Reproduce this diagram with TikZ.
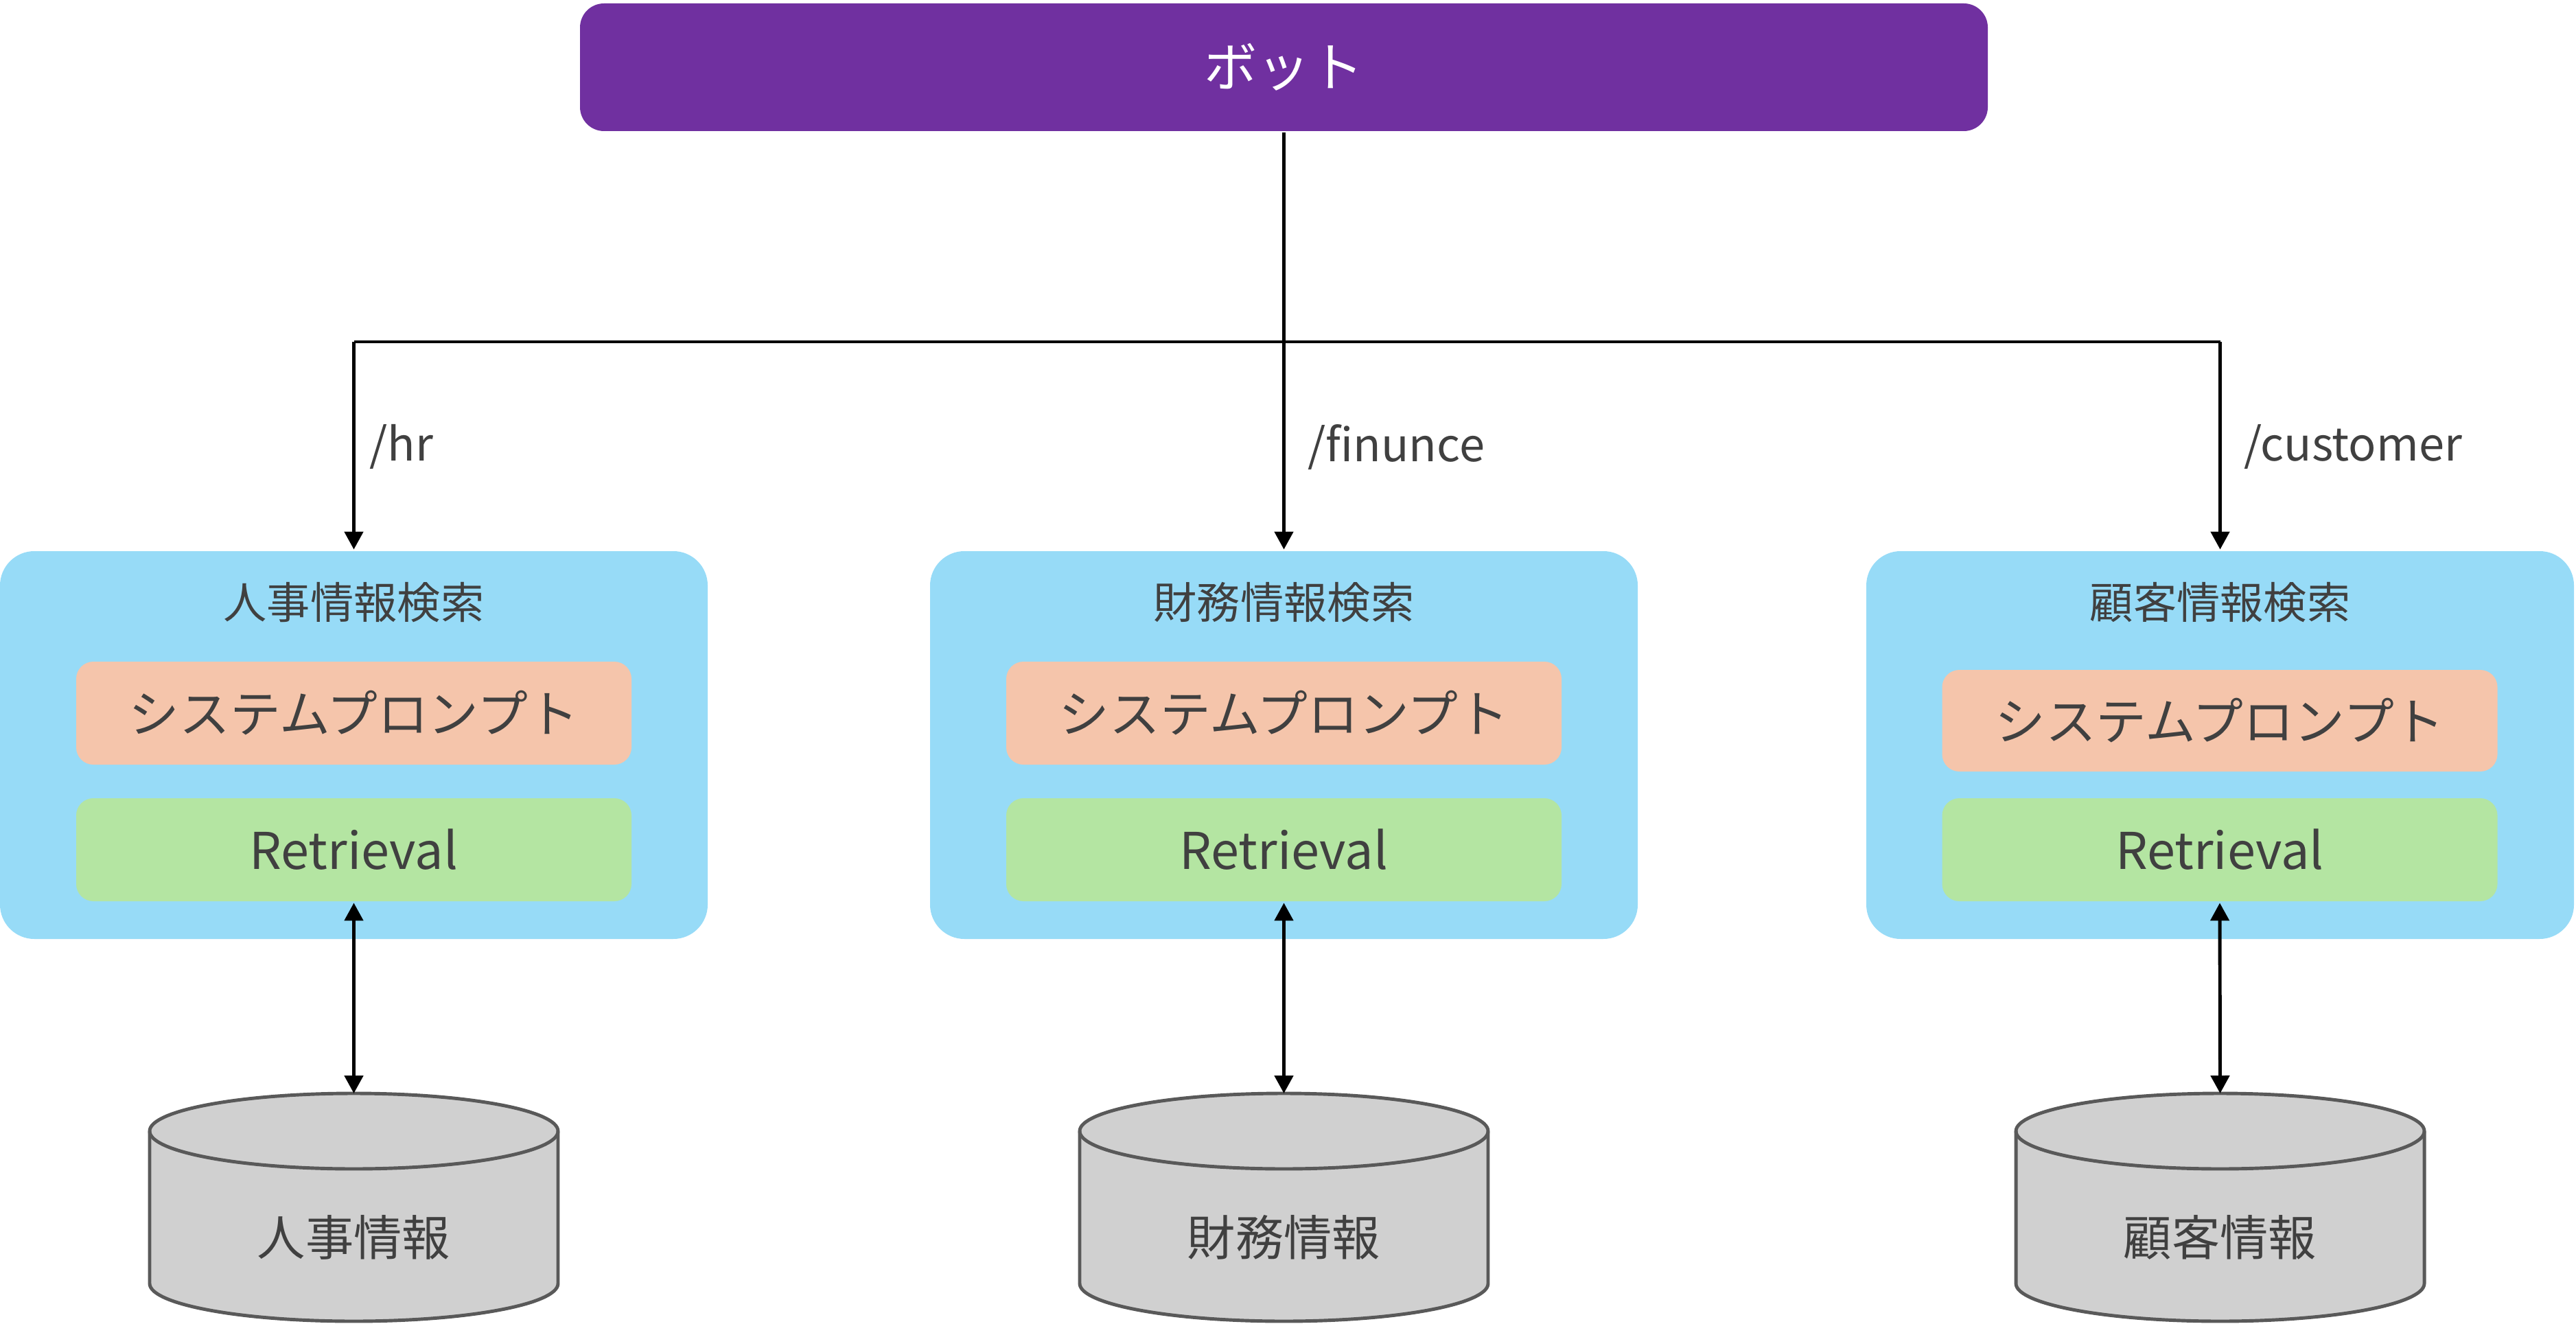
\documentclass[tikz,border=0pt]{standalone}
\usepackage{fontspec}
\setmainfont{Noto Sans CJK JP}
\usetikzlibrary{arrows.meta}
\definecolor{botpurple}{HTML}{7030A0}
\definecolor{grpblue}{HTML}{97DBF7}
\definecolor{sporange}{HTML}{F5C5AB}
\definecolor{rtgreen}{HTML}{B4E5A2}
\definecolor{dbgray}{HTML}{D0D0D0}
\definecolor{dbline}{HTML}{595959}
\definecolor{txtgray}{HTML}{404040}
\begin{document}
\begin{tikzpicture}[>={Triangle[length=2.6mm,width=2.7mm]},line width=1.4pt,
  bot/.style={fill=botpurple,rounded corners=0.35cm,minimum width=20.51cm,minimum height=1.86cm,text=white,font=\fontsize{22}{26}\selectfont},
  grp/.style={fill=grpblue,rounded corners=0.5cm,minimum width=10.31cm,minimum height=5.65cm},
  ttl/.style={text=txtgray,font=\fontsize{18}{22}\selectfont},
  spbox/.style={fill=sporange,rounded corners=0.25cm,minimum width=8.09cm,minimum height=1.5cm,text=txtgray,font=\fontsize{21}{25}\selectfont},
  rtbox/.style={fill=rtgreen,rounded corners=0.25cm,minimum width=8.09cm,minimum height=1.5cm,text=txtgray,font=\fontsize{21}{25}\selectfont},
  lbl/.style={anchor=west,inner sep=0pt,text=txtgray,font=\fontsize{19}{23}\selectfont},
  db/.style={fill=dbgray,draw=dbline,line width=1.4pt},
  dbtxt/.style={text=txtgray,font=\fontsize{20}{24}\selectfont}]
\useasboundingbox (0,0) rectangle (37.53,-19.29);
\def\rx{2.975}
\def\ry{0.55}
\node[bot] (bot) at (18.705,-0.98) {ボット};
\coordinate (j1) at (5.155,-4.98);
\coordinate (j2) at (18.705,-4.98);
\coordinate (j3) at (32.345,-4.98);
% groups
\node[grp] (g1) at (5.155,-10.855) {};
\node[grp] (g2) at (18.705,-10.855) {};
\node[grp] (g3) at (32.345,-10.855) {};
\node[ttl] (t1) at (5.155,-8.78) {人事情報検索};
\node[ttl] (t2) at (18.705,-8.78) {財務情報検索};
\node[ttl] (t3) at (32.345,-8.78) {顧客情報検索};
\node[spbox] (sp1) at (5.155,-10.39) {システムプロンプト};
\node[spbox] (sp2) at (18.705,-10.39) {システムプロンプト};
\node[spbox,minimum height=1.48cm] (sp3) at (32.34,-10.50) {システムプロンプト};
\node[rtbox] (rt1) at (5.155,-12.38) {Retrieval};
\node[rtbox] (rt2) at (18.705,-12.38) {Retrieval};
\node[rtbox] (rt3) at (32.34,-12.38) {Retrieval};
% routes
\node[lbl] (l1) at (5.36,-6.51) {/hr};
\node[lbl] (l2) at (19.03,-6.51) {/finunce};
\node[lbl] (l3) at (32.67,-6.51) {/customer};
\draw (bot.south) -- (j2);
\draw (j1) -- (j3);
\draw[->] (j1) -- (g1.north);
\draw[->] (j2) -- (g2.north);
\draw[->] (j3) -- (g3.north);
% databases
\begin{scope}[shift={(5.155,-16.48)}]
\filldraw[db] (-\rx,0) -- (-\rx,-2.22) arc[start angle=180,end angle=360,x radius=\rx,y radius=\ry] -- (\rx,0) arc[start angle=0,end angle=180,x radius=\rx,y radius=\ry] -- cycle;
\draw[db,fill=none] (-\rx,0) arc[start angle=180,end angle=360,x radius=\rx,y radius=\ry];
\coordinate (d1top) at (0,\ry);
\node[dbtxt] (d1) at (0,-1.55) {人事情報};
\end{scope}
\begin{scope}[shift={(18.705,-16.48)}]
\filldraw[db] (-\rx,0) -- (-\rx,-2.22) arc[start angle=180,end angle=360,x radius=\rx,y radius=\ry] -- (\rx,0) arc[start angle=0,end angle=180,x radius=\rx,y radius=\ry] -- cycle;
\draw[db,fill=none] (-\rx,0) arc[start angle=180,end angle=360,x radius=\rx,y radius=\ry];
\coordinate (d2top) at (0,\ry);
\node[dbtxt] (d2) at (0,-1.55) {財務情報};
\end{scope}
\begin{scope}[shift={(32.345,-16.48)}]
\filldraw[db] (-\rx,0) -- (-\rx,-2.22) arc[start angle=180,end angle=360,x radius=\rx,y radius=\ry] -- (\rx,0) arc[start angle=0,end angle=180,x radius=\rx,y radius=\ry] -- cycle;
\draw[db,fill=none] (-\rx,0) arc[start angle=180,end angle=360,x radius=\rx,y radius=\ry];
\coordinate (d3top) at (0,\ry);
\node[dbtxt] (d3) at (0,-1.55) {顧客情報};
\end{scope}
\draw[<->] (rt1.south) -- (d1top);
\draw[<->] (rt2.south) -- (d2top);
\draw[<->] (rt3.south) -- (d3top);
\end{tikzpicture}
\end{document}
